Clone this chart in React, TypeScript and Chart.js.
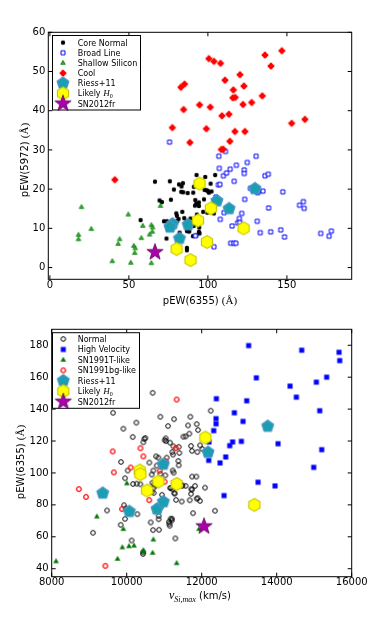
import React, { useEffect, useRef } from "react";
import { Chart, registerables } from "chart.js";
Chart.register(...registerables);

const FONT = '"DejaVu Sans", sans-serif';
const SERIF = '"Liberation Serif", "DejaVu Serif", serif';
Chart.defaults.font.family = FONT;

type P = [number, number];

// ---------- Top panel: pEW(6355) vs pEW(5972) ----------
const coreNormal: P[] = [
  [57.4,12.1],[66.5,21.9],[69.4,17.1],[70.9,16.7],[72.2,11.8],[74.1,11.8],[73.8,7.4],[75.9,22.0],[76.6,17.3],[78.5,19.9],
  [80.0,13.8],[80.4,13.2],[80.6,11.9],[81.4,12.4],[82.1,8.9],[81.7,21.2],[83.3,20.7],[84.2,21.5],[83.1,19.3],[84.4,19.2],
  [83.8,14.2],[87.2,19.0],[86.5,11.8],[86.7,9.3],[87.6,9.3],[86.7,5.0],[86.7,4.4],[90.5,8.0],[88.2,9.2],[91.1,20.6],
  [90.7,19.1],[92.8,23.6],[92.0,17.2],[91.8,15.8],[92.6,16.3],[94.3,15.7],[94.3,16.6],[93.0,13.5],[93.5,11.7],[94.5,10.2],
  [94.3,9.1],[94.7,8.7],[92.7,8.2],[98.3,23.1],[97.9,19.8],[99.2,19.7],[100.0,19.5],[100.6,19.1],[101.7,21.4],[102.3,19.4],
  [97.5,17.4],[97.0,14.2],[99.6,14.0],[104.6,23.6],[103.8,13.8],[91.0,10.6],[89.0,12.5],[85.0,12.6]
];
const broadLine: P[] = [
  [75.7,32.0],[106.9,28.4],[111.1,29.6],[107.2,25.3],[106.6,21.1],[107.6,21.2],[109.8,23.4],[111.8,24.1],[114.1,25.1],[118.0,26.1],
  [116.6,22.0],[105.1,18.0],[107.8,12.3],[110.2,14.0],[115.3,10.6],[114.4,6.2],[116.4,6.2],[117.7,6.2],[103.8,5.3],[92.1,8.1],
  [118.8,11.4],[119.9,12.5],[120.1,11.5],[121.4,13.8],[123.0,24.9],[123.0,24.0],[123.3,17.4],[124.9,26.8],[130.5,28.4],[126.9,20.2],
  [131.4,19.1],[131.9,19.4],[134.8,19.5],[131.2,11.8],[133.1,8.9],[136.1,23.4],[138.2,23.8],[138.4,15.2],[139.7,9.1],[146.1,9.6],
  [147.4,19.3],[148.5,7.8],[158.0,15.9],[160.4,16.8],[160.9,15.1],[171.4,8.7],[176.7,8.0],[178.1,9.3]
];
const shallowSilicon: P[] = [
  [20.0,15.4],[18.1,8.3],[18.1,7.2],[26.2,9.8],[39.5,1.6],[43.2,6.0],[44.1,7.2],[49.6,13.5],[51.2,1.2],[53.1,5.5],
  [54.0,4.9],[53.7,3.7],[57.9,7.5],[58.8,10.6],[63.1,8.4],[64.2,10.8],[65.0,10.2],[64.8,9.1],[64.2,1.1],[70.0,15.7]
];
const cool: P[] = [
  [41.1,22.4],[77.5,35.7],[82.9,46.0],[85.2,46.8],[84.6,40.3],[88.6,31.9],[94.7,41.5],[99.0,35.4],[100.6,53.3],[101.5,40.9],
  [103.8,52.6],[108.0,52.1],[108.9,38.7],[110.8,47.8],[108.5,30.1],[109.7,30.2],[113.3,39.1],[113.9,32.2],[116.1,45.3],[115.8,43.3],
  [117.3,43.4],[117.1,34.7],[120.3,49.2],[122.2,41.6],[122.8,46.3],[123.4,34.7],[127.7,42.1],[134.4,43.8],[136.1,54.2],[139.9,51.4],
  [146.8,55.3],[153.0,36.8],[161.4,37.8]
];
const riessTop: P[] = [[77.6,11.1],[76.0,10.3],[82.0,7.4],[87.5,10.9],[105.7,17.0],[113.4,15.0],[129.8,20.1]];
const likelyH0Top: P[] = [[94.7,21.4],[101.9,15.1],[93.7,12.0],[122.6,10.0],[99.4,6.5],[80.2,4.7],[89.0,1.9]];
const sn2012frTop: P[] = [[66.5,3.9]];
const topXTicks = [0, 50, 100, 150];
const topYTicks = [0, 10, 20, 30, 40, 50, 60];

// ---------- Bottom panel: v_Si,max vs pEW(6355) ----------
const normal: P[] = [
  [9102,62.5],[9476,76.5],[9636,137.7],[9840,67.5],[9849,106.9],[9911,127.7],[9929,79.8],[9956,96.7],[9956,71.2],[9973,77.7],
  [10027,101.5],[10133,57.7],[10160,122.5],[10169,93.1],[10258,131.5],[10267,93.3],[10284,74.2],[10364,92.9],[10436,49.2],[10436,50.3],
  [10444,119.2],[10471,121.3],[10498,121.9],[10604,106.5],[10640,69.0],[10667,99.0],[10667,88.1],[10684,93.8],[10693,150.2],[10702,64.2],
  [10711,101.5],[10720,90.8],[10720,87.5],[10738,93.1],[10764,92.1],[10782,110.4],[10800,104.6],[10800,79.0],[10844,109.6],[10853,73.1],
  [10853,71.0],[10862,64.4],[10898,135.2],[10898,99.4],[10916,78.5],[10942,86.3],[11013,120.5],[11031,98.5],[11040,121.7],[11049,120.0],
  [11067,109.6],[11102,129.4],[11128,69.4],[11138,68.1],[11147,66.9],[11156,119.0],[11163,90.6],[11173,71.3],[11173,90.6],[11200,70.2],
  [11208,71.3],[11218,113.1],[11218,89.8],[11227,101.5],[11236,111.5],[11244,116.7],[11253,100.2],[11262,133.7],[11271,87.3],[11280,87.1],
  [11298,59.0],[11316,83.1],[11378,107.5],[11387,104.8],[11387,116.3],[11404,112.5],[11467,82.1],[11476,92.1],[11484,92.1],[11511,122.7],
  [11573,122.9],[11573,91.9],[11636,129.8],[11671,124.6],[11680,82.9],[11698,135.2],[11716,116.9],[11716,86.9],[11723,89.8],[11742,113.8],
  [11742,97.7],[11742,89.6],[11769,74.8],[11822,91.9],[11858,97.7],[11867,130.6],[11867,83.9],[11884,113.1],[11893,84.2],[11902,126.9],
  [11956,117.3],[11956,82.5],[12018,115.0],[12089,90.8],[12240,139.0],[12356,76.3]
];
const highVelocity: P[] = [
  [13253,179.8],[14667,176.9],[15662,175.6],[15680,170.4],[13458,159.6],[15333,160.0],[15058,156.9],[14356,154.4],[14524,147.5],[12391,146.5],
  [13200,145.2],[15147,139.0],[12382,134.0],[12382,130.8],[12871,137.7],[13102,132.3],[12320,126.5],[13058,119.8],[12824,119.4],[12747,117.1],
  [12196,119.4],[14036,118.3],[15201,114.6],[12640,110.0],[12187,107.9],[12489,106.3],[14987,103.5],[13502,94.2],[13956,91.9],[12596,85.8]
];
const sn1991T: P[] = [
  [8116,44.6],[9204,72.6],[10004,93.4],[9910,64.8],[9884,53.3],[10060,54.0],[10196,54.4],[9755,46.1],[10444,51.5],[10444,50.4],
  [10710,58.2],[10690,49.9],[11333,43.4],[11929,64.8]
];
const sn1991bg: P[] = [
  [8000,176.5],[11333,146.0],[9627,113.5],[9658,100.4],[10368,115.5],[10444,110.4],[10107,103.4],[8724,89.9],[8916,85.0],[9876,77.4],
  [9431,41.8],[10600,83.0],[10880,101.4],[11012,94.5],[11040,107.3],[11311,115.6]
];
const riessBottom: P[] = [[9360,87.3],[10071,75.8],[10809,77.3],[10978,81.9],[10978,105.4],[12169,112.9],[13760,129.2]];
const likelyH0Bottom: P[] = [[10347,101.5],[10364,99.2],[10542,89.0],[10844,94.6],[11333,93.1],[12098,122.1],[13404,80.0]];
const sn2012frBottom: P[] = [[12062,66.5]];
const botXTicks = [8000, 10000, 12000, 14000, 16000];
const botYTicks = [40, 60, 80, 100, 120, 140, 160, 180];

// ---------- markers ----------
type Shape = "circle" | "square" | "triangle" | "pentagon" | "hexagon" | "star" | "plus";
function makeMarker(shape: Shape, r: number, fill: string | null, stroke: string | null, lw: number): HTMLCanvasElement {
  const half = Math.ceil(r + lw + 1);
  const size = half * 2;
  const c = document.createElement("canvas");
  c.width = size;
  c.height = size;
  const ctx = c.getContext("2d")!;
  ctx.translate(size / 2, size / 2);
  ctx.beginPath();
  const poly = (n: number, rad: number) => {
    for (let i = 0; i < n; i++) {
      const a = -Math.PI / 2 + (i * 2 * Math.PI) / n;
      const px = rad * Math.cos(a), py = rad * Math.sin(a);
      if (i === 0) ctx.moveTo(px, py); else ctx.lineTo(px, py);
    }
    ctx.closePath();
  };
  if (shape === "circle") { ctx.arc(0, 0, r, 0, Math.PI * 2); }
  else if (shape === "square") { ctx.rect(-r, -r, 2 * r, 2 * r); }
  else if (shape === "triangle") { poly(3, r); }
  else if (shape === "pentagon") { poly(5, r); }
  else if (shape === "hexagon") { poly(6, r); }
  else if (shape === "star") {
    for (let i = 0; i < 10; i++) {
      const a = -Math.PI / 2 + (i * Math.PI) / 5;
      const rr = i % 2 === 0 ? r : r * 0.4;
      const px = rr * Math.cos(a), py = rr * Math.sin(a);
      if (i === 0) ctx.moveTo(px, py); else ctx.lineTo(px, py);
    }
    ctx.closePath();
  } else if (shape === "plus") {
    const w = r * 0.4;
    ctx.moveTo(-w, -r); ctx.lineTo(w, -r); ctx.lineTo(w, -w); ctx.lineTo(r, -w); ctx.lineTo(r, w); ctx.lineTo(w, w);
    ctx.lineTo(w, r); ctx.lineTo(-w, r); ctx.lineTo(-w, w); ctx.lineTo(-r, w); ctx.lineTo(-r, -w); ctx.lineTo(-w, -w);
    ctx.closePath();
    ctx.moveTo(r * 0.78, 0);
    ctx.arc(0, 0, r * 0.78, 0, Math.PI * 2);
  }
  if (fill) { ctx.fillStyle = fill; ctx.fill(); }
  if (stroke && lw > 0) { ctx.lineWidth = lw; ctx.strokeStyle = stroke; ctx.stroke(); }
  return c;
}

type Seg = { t: string; f: string; dy?: number };
function drawRich(ctx: CanvasRenderingContext2D, segs: Seg[], x: number, y: number, align: "left" | "center", rot = 0) {
  ctx.save();
  ctx.translate(x, y);
  if (rot) ctx.rotate(rot);
  let total = 0;
  const ws = segs.map((s) => { ctx.font = s.f; const w = ctx.measureText(s.t).width; total += w; return w; });
  let cx = align === "center" ? -total / 2 : 0;
  ctx.fillStyle = "#000";
  ctx.textBaseline = "alphabetic";
  ctx.textAlign = "left";
  segs.forEach((s, i) => { ctx.font = s.f; ctx.fillText(s.t, cx, s.dy || 0); cx += ws[i]; });
  ctx.restore();
}

const T8 = `8px ${FONT}`;
const likelySegs: Seg[] = [{ t: "Likely ", f: T8 }, { t: "H", f: `italic 9px ${SERIF}` }, { t: "0", f: `6px ${SERIF}`, dy: 2 }];
const pewSegs = (n: string): Seg[] => [{ t: `pEW(${n}) `, f: `10px ${FONT}` }, { t: "(Å)", f: `11px ${SERIF}` }];

type Series = { label: Seg[]; data: P[]; img: HTMLCanvasElement };
type Spec = {
  height: number;
  area: { left: number; right: number; top: number; bottom: number };
  xMin: number; xMax: number; yMin: number; yMax: number;
  xTicks: number[]; yTicks: number[];
  series: Series[];
  legend: { x0: number; y0: number; x1: number; y1: number; mx: number; tx: number; row0: number; step: number };
  xTitle: Seg[]; xTitlePos: [number, number];
  yTitle: Seg[]; yTitlePos: [number, number];
};

function topSpec(): Spec {
  const riess = makeMarker("pentagon", 6.2, "#1a9fb0", "#4d94cc", 1.2);
  const likely = makeMarker("hexagon", 6.4, "#ffff00", "#c8c800", 1.2);
  const star = makeMarker("star", 8.6, "#aa00aa", "#5a005a", 0.8);
  return {
    height: 320,
    area: { left: 48.3, right: 351.7, top: 32.3, bottom: 279.3 },
    xMin: -1, xMax: 191, yMin: -3, yMax: 60,
    xTicks: topXTicks, yTicks: topYTicks,
    series: [
      { label: [{ t: "Core Normal", f: T8 }], data: coreNormal, img: makeMarker("circle", 2.2, "#000", null, 0) },
      { label: [{ t: "Broad Line", f: T8 }], data: broadLine, img: makeMarker("square", 2.0, "#fff", "#0000ff", 1) },
      { label: [{ t: "Shallow Silicon", f: T8 }], data: shallowSilicon, img: makeMarker("triangle", 2.6, "#40a840", "#008000", 0.8) },
      { label: [{ t: "Cool", f: T8 }], data: cool, img: makeMarker("plus", 3.3, "#ff0000", null, 0) },
      { label: [{ t: "Riess+11", f: T8 }], data: riessTop, img: riess },
      { label: likelySegs, data: likelyH0Top, img: likely },
      { label: [{ t: "SN2012fr", f: T8 }], data: sn2012frTop, img: star },
    ],
    legend: { x0: 52.5, y0: 35.5, x1: 140.5, y1: 110, mx: 63, tx: 77.7, row0: 42.6, step: 10.17 },
    xTitle: pewSegs("6355"), xTitlePos: [200, 304],
    yTitle: pewSegs("5972"), yTitlePos: [28, 160],
  };
}

function bottomSpec(): Spec {
  const riess = makeMarker("pentagon", 6.2, "#1a9fb0", "#4d94cc", 1.2);
  const likely = makeMarker("hexagon", 6.4, "#ffff00", "#c8c800", 1.2);
  const star = makeMarker("star", 8.6, "#aa00aa", "#5a005a", 0.8);
  return {
    height: 321,
    area: { left: 51.7, right: 351.7, top: 9.3, bottom: 256.7 },
    xMin: 8000, xMax: 16000, yMin: 35, yMax: 190,
    xTicks: botXTicks, yTicks: botYTicks,
    series: [
      { label: [{ t: "Normal", f: T8 }], data: normal, img: makeMarker("circle", 2.3, null, "#000", 1) },
      { label: [{ t: "High Velocity", f: T8 }], data: highVelocity, img: makeMarker("square", 2.3, "#0000ff", "#2020ff", 0.5) },
      { label: [{ t: "SN1991T-like", f: T8 }], data: sn1991T, img: makeMarker("triangle", 2.8, "#007700", "#007700", 0.5) },
      { label: [{ t: "SN1991bg-like", f: T8 }], data: sn1991bg, img: makeMarker("circle", 2.3, null, "#ff1010", 1.3) },
      { label: [{ t: "Riess+11", f: T8 }], data: riessBottom, img: riess },
      { label: likelySegs, data: likelyH0Bottom, img: likely },
      { label: [{ t: "SN2012fr", f: T8 }], data: sn2012frBottom, img: star },
    ],
    legend: { x0: 52.5, y0: 12.7, x1: 139.5, y1: 88.3, mx: 63.3, tx: 77.7, row0: 19, step: 10.45 },
    xTitle: [
      { t: "v", f: `italic 12px ${SERIF}` },
      { t: "Si,max", f: `italic 8px ${SERIF}`, dy: 2.5 },
      { t: " (km/s)", f: `10px ${FONT}` },
    ],
    xTitlePos: [200, 279],
    yTitle: pewSegs("6355"), yTitlePos: [24, 142],
  };
}

function buildConfig(spec: Spec): any {
  const W = 374;
  const a = spec.area;
  const n = spec.series.length;
  const plugin = {
    id: "mplFrame",
    afterDraw(chart: any) {
      const ctx: CanvasRenderingContext2D = chart.ctx;
      const ca = chart.chartArea;
      const xs = chart.scales.x, ys = chart.scales.y;
      ctx.save();
      ctx.strokeStyle = "#000";
      ctx.lineWidth = 1;
      ctx.beginPath();
      for (const v of spec.xTicks) {
        const px = xs.getPixelForValue(v);
        ctx.moveTo(px, ca.bottom); ctx.lineTo(px, ca.bottom - 4);
        ctx.moveTo(px, ca.top); ctx.lineTo(px, ca.top + 4);
      }
      for (const v of spec.yTicks) {
        const py = ys.getPixelForValue(v);
        ctx.moveTo(ca.left, py); ctx.lineTo(ca.left + 4, py);
        ctx.moveTo(ca.right, py); ctx.lineTo(ca.right - 4, py);
      }
      ctx.stroke();
      ctx.strokeRect(ca.left, ca.top, ca.right - ca.left, ca.bottom - ca.top);
      // legend
      const L = spec.legend;
      ctx.fillStyle = "#fff";
      ctx.fillRect(L.x0, L.y0, L.x1 - L.x0, L.y1 - L.y0);
      ctx.strokeRect(L.x0, L.y0, L.x1 - L.x0, L.y1 - L.y0);
      spec.series.forEach((s, i) => {
        const yy = L.row0 + i * L.step;
        ctx.drawImage(s.img, L.mx - s.img.width / 2, yy - s.img.height / 2);
        drawRich(ctx, s.label, L.tx, yy + 3, "left");
      });
      drawRich(ctx, spec.xTitle, spec.xTitlePos[0], spec.xTitlePos[1], "center");
      drawRich(ctx, spec.yTitle, spec.yTitlePos[0], spec.yTitlePos[1], "center", -Math.PI / 2);
      ctx.restore();
    },
  };
  const tickFont = { family: FONT, size: 10 };
  return {
    type: "scatter",
    data: {
      datasets: spec.series.map((s, i) => ({
        label: s.label.map((g) => g.t).join(""),
        data: s.data.map(([x, y]) => ({ x, y })),
        pointStyle: s.img,
        pointRadius: 3,
        showLine: false,
        clip: 0,
        order: n - 1 - i,
      })),
    },
    options: {
      animation: false,
      responsive: false,
      maintainAspectRatio: false,
      devicePixelRatio: 1,
      events: [],
      layout: { padding: { left: 0, right: W - a.right, top: a.top, bottom: 0 } },
      plugins: { legend: { display: false }, tooltip: { enabled: false } },
      scales: {
        x: {
          type: "linear", position: "bottom", min: spec.xMin, max: spec.xMax,
          grid: { display: false, drawTicks: false }, border: { display: false },
          ticks: { font: tickFont, color: "#000", padding: 0, maxRotation: 0, autoSkip: false, callback: (v: any) => String(v) },
          afterBuildTicks: (s: any) => { s.ticks = spec.xTicks.map((v) => ({ value: v })); },
          afterFit: (s: any) => { s.height = spec.height - a.bottom; },
        },
        y: {
          type: "linear", position: "left", min: spec.yMin, max: spec.yMax,
          grid: { display: false, drawTicks: false }, border: { display: false },
          ticks: { font: tickFont, color: "#000", padding: 3, autoSkip: false, callback: (v: any) => String(v) },
          afterBuildTicks: (s: any) => { s.ticks = spec.yTicks.map((v) => ({ value: v })); },
          afterFit: (s: any) => { s.width = a.left; },
        },
      },
    },
    plugins: [plugin],
  };
}

function Panel({ make, top }: { make: () => Spec; top: number }) {
  const ref = useRef<HTMLCanvasElement>(null);
  const h = top === 0 ? 320 : 321;
  useEffect(() => {
    const chart = new Chart(ref.current!, buildConfig(make()));
    return () => chart.destroy();
  }, []);
  return <canvas ref={ref} width={374} height={h} style={{ position: "absolute", left: 0, top, width: 374, height: h }} />;
}

export default function App() {
  return (
    <div style={{ position: "absolute", left: 0, top: 0, width: 374, height: 641, background: "#fff" }}>
      <Panel make={topSpec} top={0} />
      <Panel make={bottomSpec} top={320} />
    </div>
  );
}
